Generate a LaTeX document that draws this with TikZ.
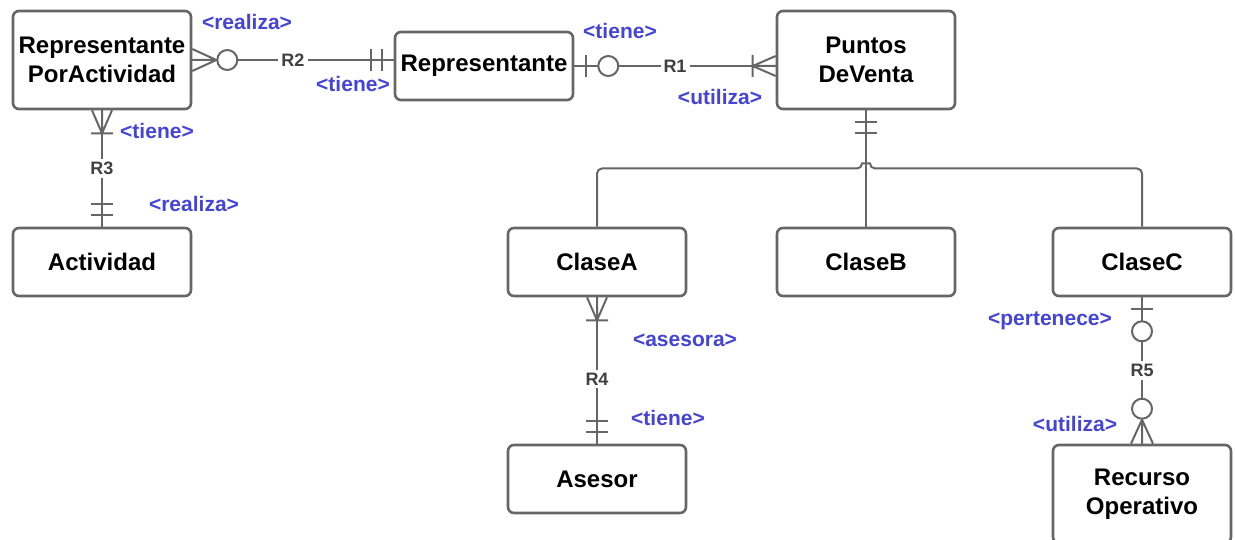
\documentclass[tikz,border=0pt]{standalone}
\usepackage{fontspec}
\setmainfont{Liberation Sans}
\usetikzlibrary{calc}

\definecolor{linegray}{RGB}{102,102,102}
\definecolor{rolblue}{RGB}{68,68,214}
\definecolor{rgray}{RGB}{64,64,64}

\begin{document}
\begin{tikzpicture}[x=1pt, y=-1pt,
  ent/.style={draw=linegray, line width=2.6pt, rounded corners=6pt, fill=white,
    minimum width=178pt, minimum height=68pt, align=center, inner sep=2pt,
    font=\bfseries\fontsize{24}{29}\selectfont},
  tall/.style={minimum height=98pt},
  rel/.style={draw=linegray, line width=2pt},
  rol/.style={text=rolblue, inner sep=1pt, font=\bfseries\fontsize{21}{24}\selectfont},
  rn/.style={text=rgray, fill=white, inner sep=3pt, font=\bfseries\fontsize{18}{20}\selectfont},
  % cardinality ends, drawn along +x away from the entity
  one/.pic={\draw[rel] (12,-11) -- (12,11) (23,-11) -- (23,11);},
  zone/.pic={\draw[rel] (12,-11) -- (12,11); \draw[rel, fill=white] (34,0) circle (10);},
  omany/.pic={\draw[rel] (0,-10) -- (23,0) (0,0) -- (23,0) (0,10) -- (23,0) (23,-11) -- (23,11);},
  zmany/.pic={\draw[rel] (0,-11) -- (24,0) (0,0) -- (24,0) (0,11) -- (24,0); \draw[rel, fill=white] (35,0) circle (10);},
]
\useasboundingbox (0,0) rectangle (1235,540);

% entities
\node[ent, tall] (rpa) at (102,60) {Representante\\PorActividad};
\node[ent] (rep) at (484,66) {Representante};
\node[ent, tall] (pdv) at (866,60) {Puntos\\DeVenta};
\node[ent] (act) at (102,262) {Actividad};
\node[ent] (ca) at (597,262) {ClaseA};
\node[ent] (cb) at (866,262) {ClaseB};
\node[ent] (cc) at (1142,262) {ClaseC};
\node[ent] (ase) at (597,479) {Asesor};
\node[ent, tall] (rec) at (1142,494) {Recurso\\Operativo};

% R2
\draw[rel] (rpa.east) -- (rpa.east -| rep.west) node[rn, midway] (r2) {R2};
\pic at (rpa.east) {zmany};
\pic[rotate=180] at (rpa.east -| rep.west) {one};
\node[rol] (r2a) at (247,22) {<realiza>};
\node[rol] (r2b) at (353,84) {<tiene>};

% R1
\draw[rel] (rep.east) -- (rep.east -| pdv.west) node[rn, midway] (r1) {R1};
\pic at (rep.east) {zone};
\pic[rotate=180] at (rep.east -| pdv.west) {omany};
\node[rol] (r1a) at (620,31) {<tiene>};
\node[rol] (r1b) at (720,97) {<utiliza>};

% R3
\draw[rel] (rpa.south) -- (act.north) node[rn, midway] (r3) {R3};
\pic[rotate=-90] at (rpa.south) {omany};
\pic[rotate=90] at (act.north) {one};
\node[rol] (r3a) at (157,131) {<tiene>};
\node[rol] (r3b) at (194,204) {<realiza>};

% subclasses of PuntosDeVenta
\coordinate (bus) at ($(pdv.south)!0.5!(cb.north)$);
\draw[rel] (pdv.south) -- (cb.north);
\pic[rotate=-90] at (pdv.south) {one};
\draw[rel, rounded corners=5pt] (ca.north) |- ([xshift=-4pt]bus)
  .. controls +(0,-5) and +(0,-5) .. ([xshift=4pt]bus) -| (cc.north);

% R4
\draw[rel] (ca.south) -- (ase.north) node[rn, pos=0.56] (r4) {R4};
\pic[rotate=-90] at (ca.south) {omany};
\pic[rotate=90] at (ase.north) {one};
\node[rol] (r4a) at (685,340) {<asesora>};
\node[rol] (r4b) at (668,418) {<tiene>};

% R5
\draw[rel] (cc.south) -- (rec.north) node[rn, midway] (r5) {R5};
\pic[rotate=-90] at (cc.south) {zone};
\pic[rotate=90] at (rec.north) {zmany};
\node[rol] (r5a) at (1050,321) {<pertenece>};
\node[rol] (r5b) at (1075,424) {<utiliza>};
\end{tikzpicture}
\end{document}
